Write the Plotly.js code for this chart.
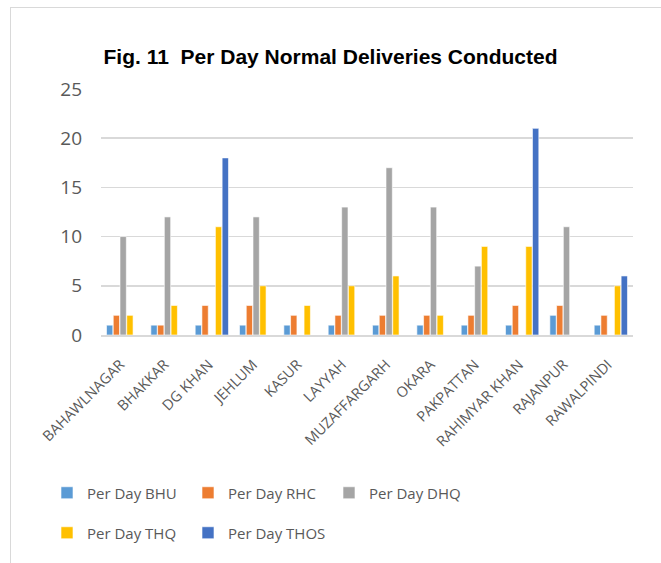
<!DOCTYPE html>
<html>
<head>
<meta charset="utf-8">
<script src="https://cdn.plot.ly/plotly-3.0.1.min.js"></script>
<style>
html,body{margin:0;padding:0;background:#fff;}
#wrap{position:relative;width:661px;height:563px;overflow:hidden;}
#frame{position:absolute;left:10px;top:7px;width:700px;height:600px;border-left:1px solid #d9d9d9;border-top:1px solid #d9d9d9;pointer-events:none;z-index:5;}
#chart{position:absolute;left:0;top:0;width:661px;height:563px;}
</style>
</head>
<body>
<div id="wrap"><div id="chart"></div><div id="frame"></div></div>
<script>
const districts = ["BAHAWLNAGAR","BHAKKAR","DG KHAN","JEHLUM","KASUR","LAYYAH","MUZAFFARGARH","OKARA","PAKPATTAN","RAHIMYAR KHAN","RAJANPUR","RAWALPINDI"];
const bhu  = [1,1,1,1,1,1,1,1,1,1,2,1];
const rhc  = [2,1,3,3,2,2,2,2,2,3,3,2];
const dhq  = [10,12,0,12,0,13,17,13,7,0,11,0];
const thq  = [2,3,11,5,3,5,6,2,9,9,0,5];
const thos = [0,0,18,0,0,0,0,0,0,21,0,6];
const seriesNames = ["Per Day BHU","Per Day RHC","Per Day DHQ","Per Day THQ","Per Day THOS"];
const seriesColors = ["#5B9BD5","#ED7D31","#A5A5A5","#FFC000","#4472C4"];
const seriesData = [bhu, rhc, dhq, thq, thos];
const legendOf = ["legend","legend","legend","legend2","legend2"];

const traces = seriesData.map((d,i)=>({
  type:"bar", x:districts, y:d, name:seriesNames[i],
  marker:{color:seriesColors[i], line:{color:"#ffffff", width:0.6}},
  legend:legendOf[i], hoverinfo:"x+y+name"
}));

const legendCommon = {
  orientation:"h", xref:"paper", yref:"paper", xanchor:"left", yanchor:"middle",
  font:{family:"'Open Sans', sans-serif", size:15, color:"#595959"},
  entrywidth:96, entrywidthmode:"pixels", itemwidth:30, bgcolor:"rgba(0,0,0,0)",
  traceorder:"normal"
};
const layout = {
  width:661, height:563,
  margin:{l:101, r:28, t:89, b:228},
  paper_bgcolor:"#fff", plot_bgcolor:"#fff",
  title:{text:"<b>Fig. 11  Per Day Normal Deliveries Conducted</b>", x:0.5, xanchor:"center", y:1-57/563, yanchor:"middle",
    font:{family:"'Liberation Sans Narrow', 'Liberation Sans', sans-serif", size:21, color:"#000"}},
  barmode:"group", bargap:0.24, bargroupgap:0.06,
  xaxis:{tickangle:-45, tickfont:{family:"'Open Sans', sans-serif", size:14.5, color:"#595959"},
    showgrid:false, showline:true, linecolor:"#D9D9D9", linewidth:1.5, ticks:"",
    ticklabelstandoff:14, ticklabelshift:-3, fixedrange:true},
  yaxis:{range:[0,25], dtick:5, tickfont:{family:"'Open Sans', sans-serif", size:19, color:"#595959"},
    showgrid:true, gridcolor:"#D9D9D9", gridwidth:1.5, zeroline:false, showline:false, ticks:"", ticklabelstandoff:18, fixedrange:true},
  legend:Object.assign({}, legendCommon, {x:(47-101)/532, y:-(493-335)/246}),
  legend2:Object.assign({}, legendCommon, {x:(47-101)/532, y:-(533-335)/246}),
  showlegend:true
};
Plotly.newPlot("chart", traces, layout, {displayModeBar:false, staticPlot:true});
</script>
</body>
</html>
